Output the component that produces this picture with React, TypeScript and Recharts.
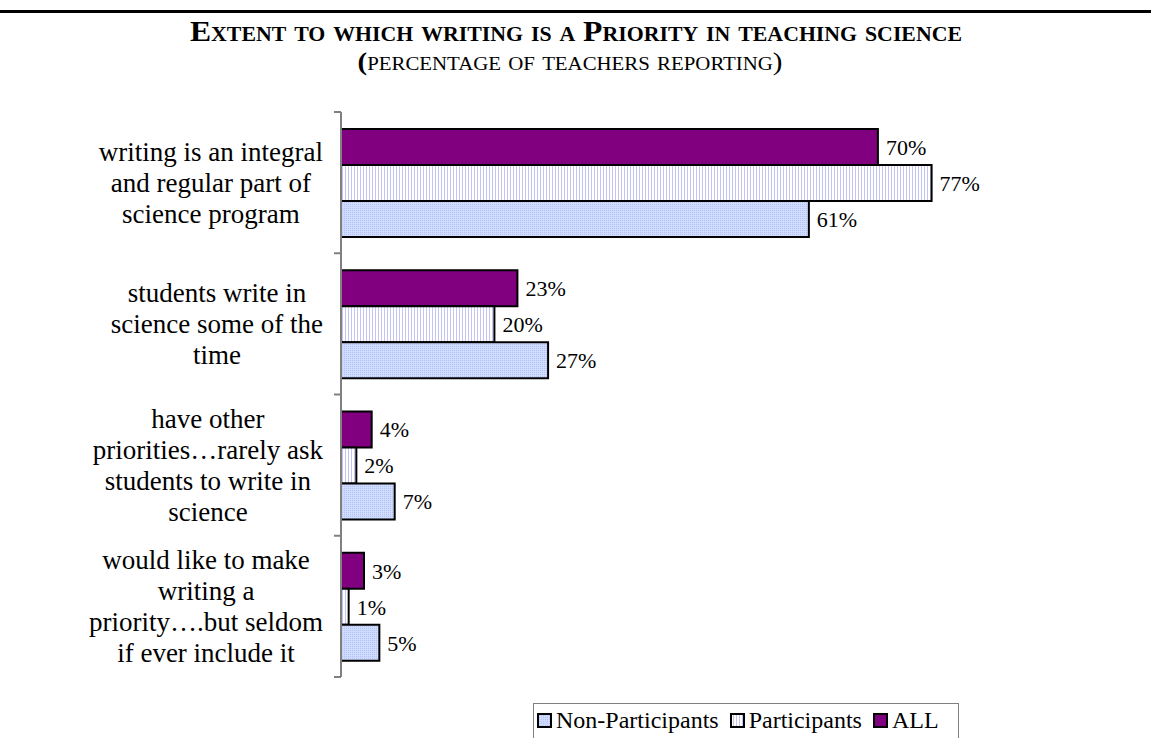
import React from 'react';
import { BarChart, Bar, XAxis, YAxis, LabelList } from 'recharts';

const categoryLines = [
  ['writing is an integral', 'and regular part of', 'science program'],
  ['students write in', 'science some of the', 'time'],
  ['have other', 'priorities…rarely ask', 'students to write in', 'science'],
  ['would like to make', 'writing a', 'priority….but seldom', 'if ever include it'],
];
const allValues = [70, 23, 4, 3];
const participantValues = [77, 20, 2, 1];
const nonParticipantValues = [61, 27, 7, 5];

const data = categoryLines.map((lines, i) => ({
  name: lines.join(' '),
  all: allValues[i],
  participants: participantValues[i],
  nonParticipants: nonParticipantValues[i],
}));

const W = 1151;
const H = 738;
const PLOT_TOP = 112;
const PLOT_BOTTOM = 677;
const AXIS_X = 341;
const Y_AXIS_W = 330;
const BAND = (PLOT_BOTTOM - PLOT_TOP) / categoryLines.length;
const SERIF = '"Liberation Serif", serif';
const LABEL_SIZE = 27;

let ctx: CanvasRenderingContext2D | null = null;
const measure = (s: string, font: string) => {
  if (!ctx) ctx = document.createElement('canvas').getContext('2d');
  if (!ctx) return s.length * 10;
  ctx.font = font;
  return ctx.measureText(s).width;
};

const CategoryTick = (props: any) => {
  const { y, index } = props;
  const lines = categoryLines[index] || [];
  const font = `${LABEL_SIZE}px "Liberation Serif"`;
  const maxW = Math.max(...lines.map((l) => measure(l, font)));
  const cx = AXIS_X - 18 - maxW / 2;
  const lh = 31;
  const top = y - ((lines.length - 1) * lh) / 2;
  const tickY = y - BAND / 2;
  return (
    <g>
      <line x1={AXIS_X - 7} x2={AXIS_X} y1={tickY} y2={tickY} stroke="#808080" strokeWidth={2} />
      {index === categoryLines.length - 1 && (
        <line x1={AXIS_X - 7} x2={AXIS_X} y1={y + BAND / 2} y2={y + BAND / 2} stroke="#808080" strokeWidth={2} />
      )}
      {lines.map((l, i) => (
        <text
          key={i}
          x={cx}
          y={top + i * lh}
          textAnchor="middle"
          dominantBaseline="central"
          fontFamily={SERIF}
          fontSize={LABEL_SIZE}
          fill="#000"
        >
          {l}
        </text>
      ))}
    </g>
  );
};

const Patterns = () => (
  <defs>
    <pattern id="pPart" width="3" height="3" patternUnits="userSpaceOnUse">
      <rect width="3" height="3" fill="#ffffff" />
      <rect x="0" y="0" width="1" height="3" fill="#c3c3f5" />
    </pattern>
    <pattern id="pNon" width="2" height="2" patternUnits="userSpaceOnUse">
      <rect width="2" height="2" fill="#cfdcff" />
      <rect x="0" y="0" width="1" height="1" fill="#b4c2f2" />
    </pattern>
  </defs>
);

const legendItems = [
  { label: 'Non-Participants', fill: 'url(#pNon)' },
  { label: 'Participants', fill: 'url(#pPart)' },
  { label: 'ALL', fill: '#800080' },
];

const pct = (v: any) => `${v}%`;

export default function App() {
  return (
    <div style={{ position: 'relative', width: W, height: H, background: '#fff', overflow: 'hidden', fontFamily: SERIF }}>
      <style>{'body{margin:0}'}</style>
      <div style={{ position: 'absolute', left: 0, top: 10, width: W, height: 3, background: '#000' }} />
      <svg style={{ position: 'absolute', left: 0, top: 0 }} width={W} height={90}>
        <text
          x={576}
          y={41}
          textAnchor="middle"
          fontFamily={SERIF}
          fontWeight="bold"
          fontSize={29}
          fontVariant="small-caps"
          textLength={772}
          lengthAdjust="spacingAndGlyphs"
        >
          Extent to which writing is a Priority in teaching science
        </text>
        <text
          x={570}
          y={70}
          textAnchor="middle"
          fontFamily={SERIF}
          fontSize={25}
          textLength={425}
          lengthAdjust="spacingAndGlyphs"
        >
          <tspan fontWeight="bold">(</tspan>
          <tspan fontVariant="small-caps">percentage of teachers reporting</tspan>
          <tspan>)</tspan>
        </text>
      </svg>
      <div style={{ position: 'absolute', left: 0, top: 0 }}>
        <BarChart
          width={W}
          height={H}
          data={data}
          layout="vertical"
          margin={{ top: PLOT_TOP, bottom: H - PLOT_BOTTOM, left: AXIS_X - Y_AXIS_W, right: W - AXIS_X - 767 }}
          barCategoryGap="12%"
          barGap={0}
        >
          <Patterns />
          <XAxis type="number" domain={[0, 100]} hide />
          <YAxis
            type="category"
            dataKey="name"
            width={Y_AXIS_W}
            interval={0}
            tickLine={false}
            axisLine={{ stroke: '#808080', strokeWidth: 2 }}
            tick={<CategoryTick />}
          />
          <Bar dataKey="all" fill="#800080" stroke="#000" strokeWidth={2} isAnimationActive={false}>
            <LabelList dataKey="all" position="right" offset={8} formatter={pct} fontFamily={SERIF} fontSize={22} fill="#000" />
          </Bar>
          <Bar dataKey="participants" fill="url(#pPart)" stroke="#000" strokeWidth={2} isAnimationActive={false}>
            <LabelList dataKey="participants" position="right" offset={8} formatter={pct} fontFamily={SERIF} fontSize={22} fill="#000" />
          </Bar>
          <Bar dataKey="nonParticipants" fill="url(#pNon)" stroke="#000" strokeWidth={2} isAnimationActive={false}>
            <LabelList dataKey="nonParticipants" position="right" offset={8} formatter={pct} fontFamily={SERIF} fontSize={22} fill="#000" />
          </Bar>
        </BarChart>
      </div>
      <div
        style={{
          position: 'absolute',
          left: 533,
          top: 703,
          width: 426,
          height: 50,
          border: '1px solid #808080',
          display: 'flex',
          alignItems: 'flex-start',
          paddingTop: 3,
          paddingLeft: 3,
          boxSizing: 'border-box',
          fontSize: 24,
          fontFamily: SERIF,
          lineHeight: '27px',
          whiteSpace: 'nowrap',
        }}
      >
        {legendItems.map((it) => (
          <div key={it.label} style={{ display: 'flex', alignItems: 'center', marginRight: 11 }}>
            <svg width={15} height={15} style={{ marginRight: 4 }}>
              <Patterns />
              <rect x={1} y={1} width={13} height={13} fill={it.fill} stroke="#000" strokeWidth={2} />
            </svg>
            <span>{it.label}</span>
          </div>
        ))}
      </div>
    </div>
  );
}
